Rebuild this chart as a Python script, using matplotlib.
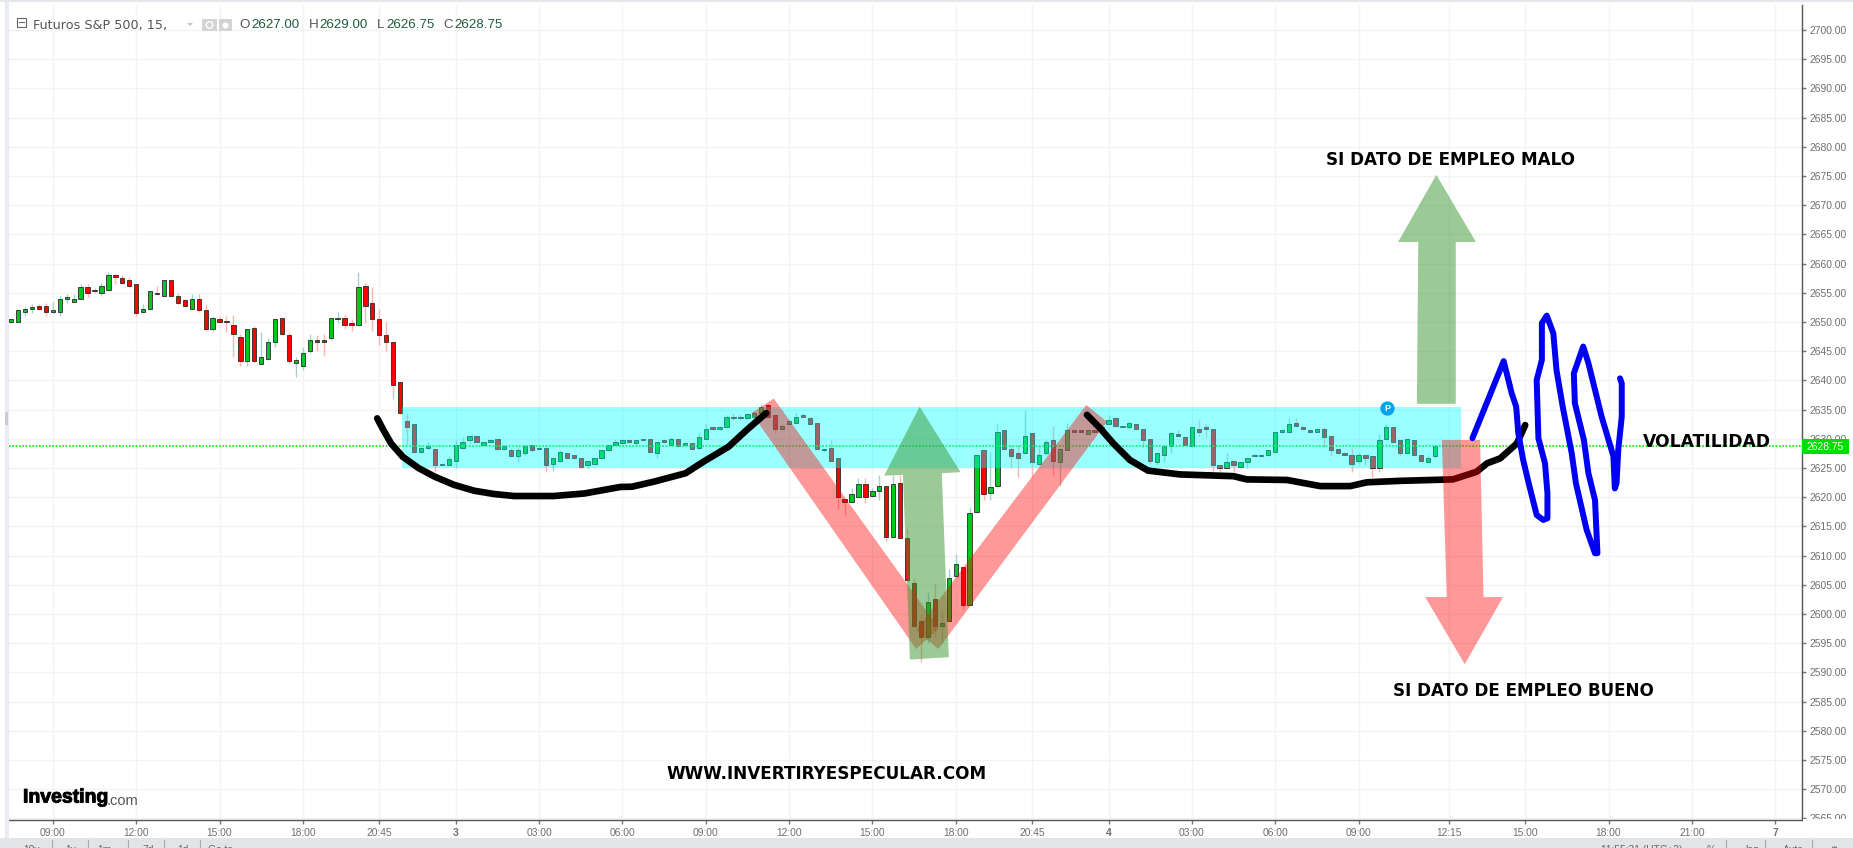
import matplotlib
matplotlib.use("Agg")
import matplotlib.pyplot as plt
import matplotlib.patheffects as pe
from matplotlib.patches import Polygon, Rectangle

# ---------- data ----------
opens = [
 2650,2650,2651.75,2652.25,2652.75,2652.75,2651.75,2651.75,2654,2653.5,
 2654,2656,2655.25,2655,2655.5,2658,2657.5,2657.25,2656.5,2651.75,
 2652.25,2655,2654.5,2657.25,2654.5,2653.75,2652.25,2654,2652,2648.75,
 2650.5,2650.25,2649.5,2647.5,2643.25,2649,2642.75,2643.75,2646.5,2650.75,
 2647.75,2643,2642.5,2645,2647,2647,2647.25,2650.5,2650.75,2649.75,
 2649.5,2656.25,2653.25,2650.5,2647.75,2646.5,2639.75,2633,2632.5,2627.75,
 2628.5,2628.25,2625.5,2625.5,2626.25,2628.5,2629.75,2630.5,2629,2629.5,
 2630,2628.25,2628,2627,2627.5,2629,2628.5,2628.5,2625.75,2626.25,
 2627.5,2627.25,2626.75,2625.5,2625.75,2626.75,2628,2629,2629.25,2629.75,
 2629.25,2629.75,2630,2627.5,2629.75,2629,2630,2629,2629.25,2628.5,
 2630,2632,2631.75,2632,2633.75,2633.75,2633.5,2633.75,2634.5,2635.75,
 2634,2631.75,2632.5,2632.75,2634,2633.5,2632.75,2628,2628.5,2626.75,
 2619.75,2619.25,2620,2622.25,2620.25,2621,2622,2613.25,2622.5,2613,
 2605.25,2598.75,2596,2602.5,2598,2598.75,2606.5,2608,2601.5,2617.5,
 2628,2620.75,2622,2631.5,2628.25,2627.5,2627.5,2631,2625.75,2627.5,
 2629.75,2626,2628,2631.5,2631.5,2630.75,2631.5,2631.5,2632.5,2633.5,
 2632,2632,2632.5,2631.75,2630,2626,2627.25,2628.75,2630.75,2630.25,
 2628.75,2631.75,2632,2631.75,2625.5,2625,2626.25,2625.25,2626,2627,
 2627.25,2627.25,2627.75,2631.25,2631.25,2632.75,2632,2631.5,2631.25,2631.75,
 2630.5,2628.25,2627.5,2627.25,2626.25,2627.25,2627,2625,2630,2632,
 2629.75,2627.5,2629.75,2627.25,2626,2627]
highs = [
 2650.5,2652.25,2652.5,2653,2653,2653.25,2653.5,2654.5,2654.75,2654.75,
 2656.5,2656.5,2655.75,2656.75,2658.5,2658.25,2658,2657.75,2656.5,2653,
 2655.25,2656.25,2657.25,2657.25,2655,2654,2654.75,2654.75,2653,2651,
 2651,2651,2651.25,2648,2648.75,2649.25,2648.25,2647.25,2650.5,2650.75,
 2648.25,2644,2645.75,2648,2647.75,2648,2650.75,2651.75,2651.25,2650.5,
 2658.5,2656.75,2656,2652.25,2650,2646.5,2639.75,2634.5,2632.5,2628.75,
 2629.5,2628.25,2625.75,2627,2629.75,2630.25,2630.5,2630.5,2629.5,2630,
 2630,2629,2628.5,2628.75,2629,2629,2629,2629,2626.75,2628,
 2627.5,2627.25,2626.75,2626.25,2626.75,2628,2629,2630,2630,2630,
 2629.75,2630,2630,2629.5,2629.75,2630.25,2630,2629.25,2629.25,2631,
 2632.5,2632.25,2632.25,2634,2634.5,2634.25,2634.5,2634.75,2636,2636,
 2634,2632.5,2633.25,2634.5,2634.5,2633.75,2632.75,2628.5,2629.75,2626.75,
 2619.75,2621.5,2623.25,2623.25,2621.5,2623.75,2622,2623.75,2623.75,2614.5,
 2606.25,2600,2603.75,2605.25,2600.75,2607.75,2610.25,2608,2618.25,2627.25,
 2628,2627.75,2632.5,2631.5,2629,2629,2635,2631,2629,2630,
 2632.25,2628.5,2632.75,2631.5,2631.5,2631.5,2631.5,2632.5,2634,2633.75,
 2632.25,2633,2632.5,2631.75,2630,2627.5,2628.75,2631.25,2631.5,2630.5,
 2632,2633.25,2632.5,2631.75,2625.5,2627.5,2626.25,2626,2626.75,2627.5,
 2627.25,2628,2631.25,2631.5,2633.5,2633.5,2632.25,2631.5,2631.75,2632,
 2630.5,2628.25,2627.5,2628.5,2627.5,2627.25,2627,2630.75,2632.5,2632,
 2629.75,2630,2629.75,2627.25,2627,2629]
lows = [
 2650,2650,2651,2651.5,2652.25,2651,2651.5,2651,2653.25,2653.5,
 2654,2654.25,2655,2654.5,2655.5,2656.5,2656.5,2656,2651,2651.5,
 2652,2654.75,2654.5,2654.5,2653,2652.5,2652.25,2651.75,2648.5,2648.5,
 2649.75,2648.25,2644,2642.5,2642.5,2643,2642.75,2643.5,2645.75,2647.75,
 2643,2640.5,2641.75,2644.75,2645,2644.25,2647,2649.75,2648.75,2648.5,
 2649.25,2649.75,2648.5,2646,2645,2636.75,2634.25,2629,2627.5,2627.5,
 2628.25,2624.25,2625.5,2625.5,2625,2628.25,2629.25,2629.25,2629,2629.5,
 2628,2628,2627,2626,2627.25,2627.75,2628.25,2624.25,2624.5,2626,
 2626.5,2626.75,2625,2625,2625.75,2626.75,2628,2629,2629,2629.25,
 2629,2629.75,2627.5,2626.75,2629.25,2629,2628.75,2629,2628,2628.25,
 2630,2631.5,2631.5,2632,2633.25,2633.25,2633.25,2633.5,2634.25,2633.5,
 2631,2631.5,2632.5,2632.75,2633.75,2632.5,2628.25,2627.75,2626.25,2618,
 2617,2619.25,2620,2619,2620,2619.5,2612.5,2613,2613,2605.5,
 2598,2591.75,2595,2596,2595,2598.75,2606.25,2600.75,2601.5,2617.25,
 2619.5,2619.5,2622,2628,2625,2623.5,2627.5,2623.5,2625.5,2627.25,
 2623.75,2622,2628,2631.25,2631.25,2630.75,2631.25,2631.25,2632.5,2632,
 2632,2631.75,2631.75,2628.5,2625.75,2625.5,2626,2627.5,2630.25,2629,
 2628.75,2630.5,2630.25,2624.25,2624.25,2625,2624.25,2625.25,2625,2627,
 2627,2627,2627.75,2631,2631,2632,2631.5,2631,2631.25,2628.5,
 2627,2627.5,2627.25,2624.25,2625.75,2625.5,2623.5,2624.25,2630,2629.25,
 2627,2627.5,2627,2626,2626,2626.75]
closes = [
 2650.5,2652,2652.25,2652.5,2652.25,2651.75,2652,2654,2654.25,2654,
 2656,2655,2655.5,2656.25,2658,2657.75,2656.75,2656.25,2651.5,2652.25,
 2655.25,2654.75,2657.25,2654.5,2653.25,2652.75,2654,2652,2648.75,2650.75,
 2650,2650,2648,2643.25,2648.75,2643.25,2644,2646.5,2650.5,2648,
 2643.25,2643.5,2644.75,2647,2646.5,2646.5,2650.75,2650.75,2649.5,2649.5,
 2656,2652.75,2650.5,2647.75,2646.5,2639.25,2634.5,2632,2627.75,2628.5,
 2628.75,2625.5,2625.75,2626.5,2629,2629.5,2630.5,2629.5,2629.5,2629.75,
 2628.25,2628.75,2627,2628,2628.75,2628,2628.25,2625.5,2626.75,2627.75,
 2626.75,2626.75,2625.25,2626.25,2626.75,2628,2629,2629.5,2629.75,2629.5,
 2629.75,2630,2627.75,2629.5,2629.5,2630,2628.75,2629.25,2628.25,2630.25,
 2631.75,2631.75,2632,2633.75,2633.5,2633.5,2634.25,2634.5,2635.5,2633.75,
 2631.75,2632.25,2633,2633.75,2633.75,2632.5,2628.25,2628.25,2626.25,2620,
 2619.25,2620.5,2622.25,2620,2621,2622,2613.25,2622.25,2613,2605.75,
 2598,2596,2602,2598,2598.5,2606.25,2608.5,2601.5,2617.25,2627.25,
 2620.5,2621.75,2631.25,2628.25,2627,2626.75,2630.5,2626,2627.25,2629.5,
 2626.25,2628.25,2631.5,2631.25,2631.25,2631.5,2631.25,2632,2633.25,2632.25,
 2632.25,2632.75,2631.75,2629.75,2626.25,2627.5,2628.75,2631,2630.5,2629,
 2632,2631.25,2631.75,2625.5,2625,2626,2625.5,2626,2626.75,2627.25,
 2627,2628,2631.25,2631.5,2632.5,2632.25,2631.75,2631.25,2631.75,2630.25,
 2628,2627.5,2627.25,2625.75,2627.25,2626.75,2625,2629.75,2632,2629.5,
 2627.5,2630,2627.25,2626.25,2626.75,2628.75]
last_price = 2628.75

tick_bars = [6,18,30,42,53,64,76,88,100,112,124,136,147,158,170,182,194,207,218,230,242,254]
tick_labels = ["09:00","12:00","15:00","18:00","20:45","3","03:00","06:00","09:00","12:00","15:00",
               "18:00","20:45","4","03:00","06:00","09:00","12:15","15:00","18:00","21:00","7"]
price_ticks = list(range(2565, 2705, 5))

# hand-drawn overlays, in (bar, price)
curve1_bar = [52.7,53.6,54.7,56.4,58.7,61,63.8,66.7,69.5,72.4,78.1,82.6,87.7,89.4,92.5,97.1,99.7,103.3,105.9,108.7]
curve1_px  = [2633.5,2631.5,2629.2,2626.9,2624.95,2623.5,2622.1,2621.1,2620.55,2620.2,2620.2,2620.65,2621.75,2621.8,2622.65,2624.1,2626.1,2628.65,2631.5,2634.4]
curve2_bar = [154.9,156.8,158.7,161.1,163.7,168.3,176,177.9,183.7,188.5,192.8,195.2,200,207.6,211,212.5,214.4,216.8,218]
curve2_px  = [2634.1,2631.8,2629.2,2626.35,2624.55,2623.9,2623.6,2623.05,2622.95,2621.9,2621.9,2622.55,2622.8,2623.05,2624.35,2625.8,2626.65,2629.2,2632.35]
scribble_bar = [210.4,214.9,216.05,216.7,217,217.7,218.45,219.65,220.6,221.2,221.2,220.85,219.9,219.65,220.4,220.4,221.1,
                222.05,222.5,223.4,224.7,225.3,226.85,228.05,228.4,228.05,227.1,226.45,225.15,225,226.35,227.1,229,230.7,
                230.9,231.15,231.4,231.9,231.9,231.65]
scribble_px  = [2630.1,2643.3,2637.8,2635.5,2631,2626.4,2622.65,2616.95,2616.1,2616.4,2620.7,2625.8,2630.1,2640.05,2643.5,2649.8,2651.1,
                2648.05,2641.8,2635.5,2627.5,2622.4,2614.4,2610.4,2610.4,2619.5,2624.1,2629.8,2636.1,2641.2,2645.8,2642.95,2633.8,2627,
                2621.5,2622.4,2628.1,2633.8,2639.5,2640.35]
v_left  = [(106.6,2634.4),(109.8,2636.9),(133.6,2597.55),(130.3,2594)]
v_right = [(154.8,2635.8),(157.8,2632.9),(133.5,2594),(130.3,2597.25)]
arrow_mid = [(130.8,2635.5),(136.7,2624.3),(134,2624.1),(135,2592.6),(129.4,2592.2),(128.4,2623.8),(125.7,2623.7)]
arrow_up  = [(205.2,2675.2),(210.9,2663.7),(208,2663.7),(208,2636),(202.4,2636),(202.6,2663.7),(199.7,2663.7)]
arrow_dn  = [(206,2629.8),(211.5,2629.8),(212,2602.9),(214.8,2602.9),(209.3,2591.4),(203.6,2602.9),(206.7,2602.9)]
band_bars = (56.3, 208.8)
band_prices = (2625, 2635.45)

# ---------- figure ----------
W, H = 1853, 848
fig = plt.figure(figsize=(W/100, H/100), dpi=100, facecolor="white")
plt.rcParams["font.family"] = ["Liberation Sans", "DejaVu Sans"]

L, R, T, B = 9, 1802, 5, 820
ax = fig.add_axes([L/W, 1-B/H, (R-L)/W, (B-T)/H], zorder=1)
bar0, barw = 11.2, 6.945
ax.set_xlim((L-bar0)/barw, (R-bar0)/barw)
ax.set_ylim(2650-(B-322)/5.84, 2650-(T-322)/5.84)

ax.set_xticks(tick_bars)
ax.set_xticklabels(tick_labels)
ax.set_yticks(price_ticks)
ax.set_yticklabels([f"{p:.2f}" for p in price_ticks])
ax.yaxis.tick_right()
ax.tick_params(axis="x", length=3, width=1, color="#777777", labelcolor="#6f6f6f", labelsize=7.4, pad=2.5)
ax.tick_params(axis="y", length=3, width=1, color="#777777", labelcolor="#6f6f6f", labelsize=7.4, pad=2.5)
for lab, txt in zip(ax.get_xticklabels(), tick_labels):
    if len(txt) == 1:
        lab.set_fontweight("bold")
ax.grid(True, color="#f1f3f5", lw=1)
ax.set_axisbelow(True)
for s in ("top", "left"):
    ax.spines[s].set_visible(False)
for s in ("right", "bottom"):
    ax.spines[s].set_color("#555555")
    ax.spines[s].set_linewidth(1)

# candles
GREEN, RED = "#00c81e", "#ff0000"
bars = list(range(len(opens)))
up = [c >= o for o, c in zip(opens, closes)]
ax.vlines(bars, lows, highs, colors=["#a9d0d0" if u else "#ffb4b4" for u in up], lw=1, zorder=2)
ax.bar(bars, [abs(c-o) for o, c in zip(opens, closes)], bottom=[min(o, c) for o, c in zip(opens, closes)],
       width=0.62, color=[GREEN if u else RED for u in up], edgecolor="#2a2a2a", linewidth=0.6, zorder=2.5)

# last price line
ax.axhline(last_price, color="#00f000", lw=1.2, ls=(0, (1, 1)), zorder=3)

# overlays
ax.add_patch(Rectangle((band_bars[0], band_prices[0]), band_bars[1]-band_bars[0], band_prices[1]-band_prices[0],
                       facecolor="#00ffff", alpha=0.4, lw=0, zorder=3.5))
for poly in (v_left, v_right):
    ax.add_patch(Polygon(poly, closed=True, facecolor="#ff0000", alpha=0.4, lw=0, zorder=4))
for poly in (arrow_mid, arrow_up):
    ax.add_patch(Polygon(poly, closed=True, facecolor="#399731", alpha=0.5, lw=0, zorder=5))
for xs, ys in ((curve1_bar, curve1_px), (curve2_bar, curve2_px)):
    ax.plot(xs, ys, color="black", lw=4.8, solid_capstyle="round", solid_joinstyle="round", zorder=6)
ax.add_patch(Polygon(arrow_dn, closed=True, facecolor="#ff0000", alpha=0.4, lw=0, zorder=7))
ax.plot(scribble_bar, scribble_px, color="#0000f5", lw=4.3, solid_capstyle="round", solid_joinstyle="round", zorder=8)

# news marker
ax.scatter([198.1], [2635.3], s=105, color="#0aa0ee", lw=0, zorder=9)
ax.text(198.1, 2635.25, "P", color="white", fontsize=6.5, fontweight="bold", ha="center", va="center", zorder=10)

# ---------- chrome drawn in pixel coordinates ----------
ch = fig.add_axes([0, 0, 1, 1], zorder=2)
ch.set_xlim(0, W)
ch.set_ylim(H, 0)
ch.axis("off")
ch.patch.set_alpha(0)

def rect(x0, y0, x1, y1, c, **kw):
    ch.add_patch(Rectangle((x0, y0), x1-x0, y1-y0, facecolor=c, lw=0, **kw))

rect(0, 838, W, H, "#e3e4e6")            # bottom strip
rect(5, 0, 8.5, 838, "#e8ebef")           # left rail
rect(5, 412, 8, 425, "#c8ccd0")
rect(0, 0, W, 1.5, "#e3e6ea")
rect(1803, 819, W, 838, "white")          # hides lower half of lowest label

for x, s in zip((32, 71, 104, 148, 183, 221), ("10y", "1y", "1m", "7d", "1d", "Go to")):
    ch.text(x, 845, s, fontsize=7.4, color="#666666", ha="center", va="top")
for x in (52, 88, 128, 164, 200):
    ch.plot([x, x], [840, H], color="#aaaaaa", lw=0.8)
for x, s in zip((1642, 1711, 1752, 1793, 1834), ("11:55:31 (UTC+2)", "%", "log", "Auto", "\u2699")):
    ch.text(x, 845, s, fontsize=7.4, color="#666666", ha="center", va="top", family=["Liberation Sans", "DejaVu Sans"])
for x in (1726, 1765, 1812):
    ch.plot([x, x], [840, H], color="#aaaaaa", lw=0.8)

# price tag
rect(1802, 439, 1849, 454, "#00dd00")
ch.text(1825.5, 446.5, f"{last_price:.2f}", color="white", fontsize=7.4, ha="center", va="center")

# header
ch.add_patch(Rectangle((16.5, 17.5), 9, 9, facecolor="white", edgecolor="#666666", lw=0.8))
ch.plot([18.5, 23.5], [22, 22], color="#666666", lw=0.8)
ch.text(33, 25, "Futuros S&P 500, 15,", fontsize=9.2, color="#555555", ha="left", va="center", family="DejaVu Sans")
ch.add_patch(Polygon([(187, 23), (193, 23), (190, 26)], facecolor="#c4c4c4", lw=0))
rect(202, 19, 217, 31, "#d4d4d4")
rect(218.5, 19, 232, 31, "#d4d4d4")
ch.scatter([209.5], [25], s=22, facecolor="none", edgecolor="white", lw=1)
ch.scatter([225], [25], s=18, color="white", lw=0)
header_vals = (("O", 239, "2627.00", 251), ("H", 309, "2629.00", 319), ("L", 377, "2626.75", 386), ("C", 443, "2628.75", 454))
for key, kx, val, vx in header_vals:
    ch.text(kx, 25.5, key, fontsize=9.6, color="#555555", ha="left", va="center")
    ch.text(vx, 25.5, val, fontsize=9.6, color="#1f5c3c", ha="left", va="center")

# logo
logo = ch.text(23, 798, "Investing", fontsize=14, fontweight="bold", color="black", ha="left", va="center")
logo.set_path_effects([pe.withStroke(linewidth=0.7, foreground="black")])
ch.text(107, 801, ".com", fontsize=10.5, color="#555555", ha="left", va="center")
ch.scatter([81], [790.5], s=8, color="#f5a623", lw=0)

# annotations
for x, y, s, fs in ((1450, 160, "SI DATO DE EMPLEO MALO", 12.1),
                    (1523, 691, "SI DATO DE EMPLEO BUENO", 12.1),
                    (1707, 442, "VOLATILIDAD", 12.3),
                    (827, 774, "WWW.INVERTIRYESPECULAR.COM", 12.2)):
    ch.text(x, y, s, fontsize=fs, fontweight="bold", color="black", ha="center", va="center", family="DejaVu Sans")

assert len(opens) == len(highs) == len(lows) == len(closes), (len(opens), len(highs), len(lows), len(closes))
fig.savefig("out.png", dpi=100)
